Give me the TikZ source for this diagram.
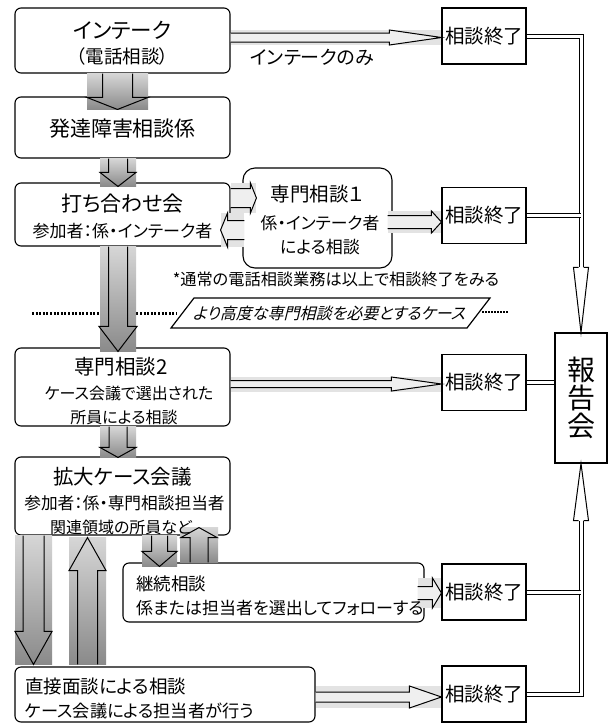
\documentclass[tikz,border=0pt]{standalone}
\usepackage{fontspec}
\setmainfont{Noto Sans CJK JP}[RawFeature={+palt}]
\newfontfamily\cjkit{Noto Sans CJK JP}[FakeSlant=0.25,RawFeature={+palt}]
\usetikzlibrary{calc}
\definecolor{gA}{HTML}{D6D6D6}
\definecolor{gB}{HTML}{8A8A8A}
\definecolor{gL}{HTML}{E3E3E3}
\definecolor{gF}{HTML}{EFEFEF}
\newcommand\fs[1]{\fontsize{#1}{#1}\selectfont}
% vertical down block arrow: x, from, tip, shaft half, head half, head length, block half
\newcommand\dnarrow[7]{%
 \path[top color=gA, bottom color=gB] let \p1=(#2), \p2=(#3) in ({(#1-#7)*1pt},\y1) rectangle ({(#1+#7)*1pt},\y2);
 \draw[arr] let \p1=(#2), \p2=(#3) in ({(#1-#4)*1pt},\y1) -- ({(#1-#4)*1pt},\y2+#6pt) -- ({(#1-#5)*1pt},\y2+#6pt) -- ({#1*1pt},\y2) -- ({(#1+#5)*1pt},\y2+#6pt) -- ({(#1+#4)*1pt},\y2+#6pt) -- ({(#1+#4)*1pt},\y1);
}
% vertical up block arrow: x, tip (top), bottom, shaft half, head half, head length, block half
\newcommand\uparr[7]{%
 \path[top color=gA, bottom color=gB] let \p1=(#2), \p2=(#3) in ({(#1-#7)*1pt},\y1) rectangle ({(#1+#7)*1pt},\y2);
 \draw[arr] let \p1=(#2), \p2=(#3) in ({(#1-#4)*1pt},\y2) -- ({(#1-#4)*1pt},\y1-#6pt) -- ({(#1-#5)*1pt},\y1-#6pt) -- ({#1*1pt},\y1) -- ({(#1+#5)*1pt},\y1-#6pt) -- ({(#1+#4)*1pt},\y1-#6pt) -- ({(#1+#4)*1pt},\y2);
}
% horizontal right block arrow: y, from, tip, shaft half, head half, head length, strip half, fill
\newcommand\rtarrow[8]{%
 \fill[gL] let \p1=(#2), \p2=(#3) in (\x1,{(#7-#1)*1pt}) rectangle (\x2,{(-#7-#1)*1pt});
 \filldraw[arr, fill=#8] let \p1=(#2), \p2=(#3) in
  (\x1,{(#4-#1)*1pt}) -- (\x2-#6pt,{(#4-#1)*1pt}) -- (\x2-#6pt,{(#5-#1)*1pt}) -- (\x2,{-#1*1pt}) -- (\x2-#6pt,{(-#5-#1)*1pt}) -- (\x2-#6pt,{(-#4-#1)*1pt}) -- (\x1,{(-#4-#1)*1pt});
}
% horizontal left block arrow
\newcommand\ltarrow[8]{%
 \fill[gL] let \p1=(#2), \p2=(#3) in (\x1,{(#7-#1)*1pt}) rectangle (\x2,{(-#7-#1)*1pt});
 \filldraw[arr, fill=#8] let \p1=(#2), \p2=(#3) in
  (\x1,{(#4-#1)*1pt}) -- (\x2+#6pt,{(#4-#1)*1pt}) -- (\x2+#6pt,{(#5-#1)*1pt}) -- (\x2,{-#1*1pt}) -- (\x2+#6pt,{(-#5-#1)*1pt}) -- (\x2+#6pt,{(-#4-#1)*1pt}) -- (\x1,{(-#4-#1)*1pt});
}
\begin{document}
\begin{tikzpicture}[x=1pt,y=-1pt,
  box/.style={draw, line width=1.1pt, rounded corners=6pt, inner sep=0pt},
  endbox/.style={draw, line width=1.1pt, inner sep=0pt, minimum width=84pt, minimum height=56pt, font=\fs{19.5}},
  arr/.style={draw, line width=1pt, line join=miter},
  dbl/.style={draw, double=white, double distance=3pt, line width=1pt, line join=miter},
  txt/.style={inner sep=0pt},
]
\useasboundingbox (0,0) rectangle (609,724);
\fill[white] (0,0) rectangle (609,724);

% dotted separator
\draw[line width=3pt, dash pattern=on 2pt off 1.6pt] (32,313) -- (177,313);
\draw[line width=2pt, dash pattern=on 1.5pt off 1.5pt] (482,312) -- (508,312);

% boxes
\node[box, minimum width=215pt, minimum height=65pt] (b1) at (122.5,40.5) {};
\node[box, minimum width=215pt, minimum height=61pt] (b2) at (122.5,127.5) {};
\node[box, minimum width=215pt, minimum height=63pt] (b3) at (122.5,214.5) {};
\node[box, rounded corners=12pt, minimum width=149pt, minimum height=100pt] (s1) at (317.5,218) {};
\node[box, minimum width=215pt, minimum height=78pt] (b5) at (122.5,387) {};
\node[box, minimum width=215pt, minimum height=78pt] (b6) at (122.5,496) {};
\node[box, minimum width=301pt, minimum height=59pt] (b7) at (273.5,592.5) {};
\node[box, minimum width=300pt, minimum height=55pt] (b8) at (165,694.5) {};
\node[endbox] (e1) at (484,36) {相談終了};
\node[endbox] (e2) at (484,215.5) {相談終了};
\node[endbox] (e3) at (484,382.5) {相談終了};
\node[endbox] (e4) at (484,592) {相談終了};
\node[endbox] (e5) at (484,694) {相談終了};
\node[draw, line width=1.1pt, minimum width=52pt, minimum height=130pt, align=center, inner sep=0pt, font=\fs{28}] (rep) at (581,398) {報\\告\\会};

% parallelogram
\draw[line width=1.2pt] (194,298) -- (490,298) -- (467,328) -- (171,328) -- cycle;

% vertical block arrows
\dnarrow{117.5}{b1.south}{$(b2.north)+(0,13)$}{15}{30.5}{12}{30.5}
\dnarrow{118}{b2.south}{$(b3.north)+(0,4)$}{9.5}{18}{14}{18}
\dnarrow{118}{b3.south}{$(b5.north)+(0,4)$}{9.5}{19}{25}{18}
\dnarrow{118}{b5.south}{$(b6.north)+(0,1)$}{9}{18}{10}{18}
\dnarrow{33.5}{b6.south}{$(b8.north)+(0,-2)$}{10.5}{18.5}{33}{18.5}
\uparr{87.5}{$(b6.south)+(0,2)$}{$(b8.north)+(0,-2)$}{10}{18.5}{33}{18.5}
\dnarrow{159.5}{b6.south}{$(b7.north)+(0,4)$}{8}{17.5}{15}{17.5}
\uparr{199}{$(b6.south)+(0,-8)$}{b7.north}{9}{18}{10}{19}

% horizontal block arrows
\rtarrow{37.5}{b1.east}{e1.west}{4.5}{7.5}{52}{7.5}{gF}
\rtarrow{384}{b5.east}{e3.west}{3.5}{7}{50}{7.5}{gF}
\rtarrow{697}{b8.east}{e5.west}{5}{11}{32}{11}{gF}
\rtarrow{593}{$(b7.east)+(-7,0)$}{e4.west}{6.5}{15}{9}{15}{gF}
\rtarrow{222}{$(s1.east)+(-5,0)$}{e2.west}{6.5}{11}{10}{11}{gF}
\rtarrow{198}{b3.east}{$(s1.west)+(14,0)$}{9.5}{15}{6}{15}{gF}
\ltarrow{230}{$(s1.west)+(2,0)$}{$(b3.east)+(-10,0)$}{9.5}{17}{7}{17}{gF}

% texts
\node[txt, font=\fs{21.5}] (t1a) at (122.5,30) {インテーク};
\node[txt, font=\fs{18.5}] (t1b) at (122.5,56) {（電話相談）};
\node[txt, font=\fs{21}] (t2) at (122.5,129) {発達障害相談係};
\node[txt, font=\fs{21}] (t3a) at (122.5,204) {打ち合わせ会};
\node[txt, font=\fs{17}] (t3b) at (122.5,231) {参加者：係・インテーク者};
\node[txt, font=\fs{19.5}] (s1a) at (317,194) {専門相談１};
\node[txt, font=\fs{16.8}] (s1b) at (320,223) {係・インテーク者};
\node[txt, font=\fs{17}] (s1c) at (320,247) {による相談};
\node[txt, font=\fs{16.2}] (note) at (336,279) {*通常の電話相談業務は以上で相談終了をみる};
\node[txt, font=\cjkit\fs{16}] (para) at (329,313) {より高度な専門相談を必要とするケース};
\node[txt, font=\fs{19}] (ti) at (312,57) {インテークのみ};
\node[txt, font=\fs{20.5}] (t5a) at (121,367) {専門相談2};
\node[txt, font=\fs{16}] (t5b) at (129,393) {ケース会議で選出された};
\node[txt, font=\fs{16}] (t5c) at (124,417) {所員による相談};
\node[txt, font=\fs{20.5}] (t6a) at (122.5,477) {拡大ケース会議};
\node[txt, font=\fs{16.7}] (t6b) at (124.5,503) {参加者：係・専門相談担当者};
\node[txt, font=\fs{16}] (t6c) at (121,527) {関連領域の所員など};
\node[txt, font=\fs{17.5}, anchor=west] (t7a) at (136,584) {継続相談};
\node[txt, font=\fs{17}, anchor=west] (t7b) at (136,608) {係または担当者を選出してフォローする};
\node[txt, font=\fs{18.5}, anchor=west] (t8a) at (25,686) {直接面談による相談};
\node[txt, font=\fs{17.2}, anchor=west] (t8b) at (25,711) {ケース会議による担当者が行う};

% report connectors
\coordinate (vtop) at ($(rep.north)+(0,-65)$);
\coordinate (vbot) at ($(rep.south)+(0,57)$);
\draw[dbl] (e1.east) -| (vtop);
\draw[dbl] (e2.east) -- (e2.east -| vtop);
\draw[dbl] (e3.east) -- (rep.west |- e3.east);
\draw[dbl] (e5.east) -| (vbot);
\draw[dbl] (e4.east) -- (e4.east -| vbot);
\filldraw[arr, fill=white] ($(vtop)+(-2.5,0)$) -- ++(-5,0) -- (rep.north) -- ($(vtop)+(7.5,0)$) -- ++(-5,0);
\filldraw[arr, fill=white] ($(vbot)+(-2.5,0)$) -- ++(-5,0) -- (rep.south) -- ($(vbot)+(7.5,0)$) -- ++(-5,0);
\end{tikzpicture}
\end{document}
